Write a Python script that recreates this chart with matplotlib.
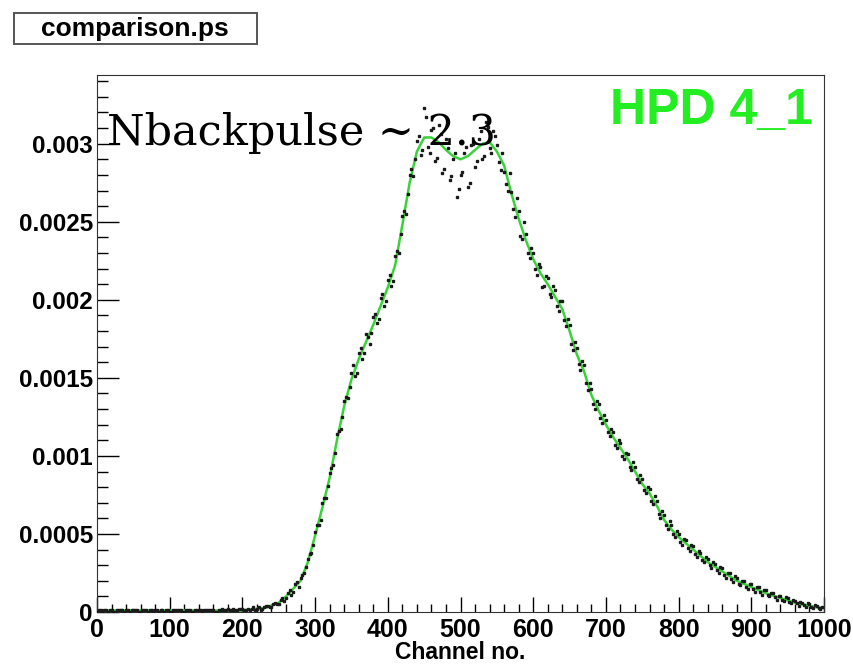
import numpy as np
import matplotlib
matplotlib.use("Agg")
import matplotlib.pyplot as plt
from matplotlib.ticker import MultipleLocator, FuncFormatter
from matplotlib.patches import Rectangle

# green reference curve, every 10 channels (units of 1e-4)
curve_ch = list(range(0, 1001, 10))
curve_val = [
    0.1, 0.1, 0.1, 0.1, 0.1, 0.1, 0.1, 0.1, 0.1, 0.1,
    0.1, 0.1, 0.1, 0.1, 0.1, 0.1, 0.1, 0.1, 0.1, 0.1,
    0.1, 0.15, 0.2, 0.25, 0.4, 0.6, 1.0, 1.5, 2.0, 3.2,
    4.9, 6.7, 8.6, 11.0, 13.2, 14.9, 16.2, 17.3, 18.4, 19.6,
    20.8, 22.2, 24.8, 27.5, 29.5, 30.4, 30.4, 30.1, 29.6, 29.2,
    29.0, 29.2, 29.6, 30.0, 30.1, 29.5, 28.6, 26.8, 25.2, 23.8,
    22.6, 21.7, 21.0, 20.2, 19.4, 18.0, 16.5, 15.4, 13.9, 12.9,
    12.0, 11.2, 10.5, 9.8, 9.0, 8.2, 7.6, 6.8, 5.9, 5.3,
    4.8, 4.4, 4.0, 3.6, 3.2, 2.9, 2.6, 2.3, 2.0, 1.8,
    1.6, 1.4, 1.2, 1.05, 0.9, 0.75, 0.6, 0.5, 0.4, 0.3,
    0.25,
]

# measured points, first pass, channels 2.5, 7.5, ... (units of 1e-4)
pts_a_ch = [2.5 + 5 * i for i in range(200)]
pts_a_val = [
    0.1, 0.0, 0.1, 0.1, 0.0, 0.1, 0.1, 0.0, 0.1, 0.1,
    0.1, 0.0, 0.1, 0.1, 0.1, 0.0, 0.1, 0.1, 0.0, 0.1,
    0.0, 0.1, 0.1, 0.0, 0.1, 0.1, 0.0, 0.1, 0.1, 0.1,
    0.1, 0.1, 0.0, 0.1, 0.2, 0.1, 0.1, 0.2, 0.1, 0.2,
    0.1, 0.2, 0.2, 0.1, 0.3, 0.2, 0.4, 0.3, 0.5, 0.5,
    0.8, 0.7, 1.2, 1.1, 1.8, 1.6, 2.4, 2.9, 3.7, 4.3,
    5.6, 5.9, 7.3, 8.1, 9.2, 10.2, 11.6, 12.5, 13.8, 14.4,
    15.8, 15.3, 16.9, 16.6, 17.6, 17.9, 19.1, 18.8, 20.4, 19.9,
    21.6, 21.2, 23.1, 24.2, 25.7, 26.8, 28.4, 29.0, 30.5, 29.6,
    31.7, 29.4, 31.0, 29.1, 30.6, 28.4, 29.7, 27.9, 29.4, 27.1,
    28.2, 29.8, 27.5, 30.0, 28.9, 30.8, 29.2, 31.1, 29.4, 30.5,
    28.8, 29.4, 27.4, 28.1, 25.8, 26.5, 24.1, 25.0, 23.0, 23.3,
    22.0, 22.3, 20.8, 21.5, 20.4, 20.9, 19.6, 19.9, 18.7, 18.8,
    17.2, 17.3, 15.9, 16.1, 14.7, 14.7, 13.3, 13.5, 12.4, 12.6,
    11.5, 11.7, 10.7, 11.0, 10.0, 10.2, 9.3, 9.6, 8.5, 8.8,
    7.8, 8.0, 7.1, 7.4, 6.3, 6.5, 5.6, 5.8, 5.0, 5.2,
    4.5, 4.7, 4.1, 4.3, 3.7, 3.9, 3.3, 3.5, 3.0, 3.2,
    2.7, 2.9, 2.4, 2.5, 2.1, 2.3, 1.8, 2.0, 1.6, 1.8,
    1.5, 1.6, 1.3, 1.4, 1.1, 1.2, 0.95, 1.05, 0.8, 0.95,
    0.65, 0.8, 0.55, 0.65, 0.45, 0.55, 0.35, 0.45, 0.25, 0.35,
]

# measured points, second pass, channels 0, 5, 10, ... (units of 1e-4)
pts_b_ch = [5 * i for i in range(200)]
pts_b_val = [
    0.0, 0.1, 0.1, 0.0, 0.1, 0.0, 0.1, 0.1, 0.1, 0.0,
    0.1, 0.1, 0.0, 0.1, 0.0, 0.1, 0.1, 0.0, 0.1, 0.1,
    0.0, 0.1, 0.1, 0.1, 0.0, 0.1, 0.0, 0.1, 0.1, 0.0,
    0.1, 0.1, 0.1, 0.0, 0.1, 0.1, 0.2, 0.1, 0.1, 0.2,
    0.2, 0.1, 0.1, 0.3, 0.2, 0.1, 0.3, 0.4, 0.3, 0.6,
    0.5, 0.9, 0.9, 1.4, 1.3, 1.9, 2.2, 2.5, 3.4, 3.8,
    5.1, 5.6, 7.0, 7.3, 8.9, 9.4, 11.4, 11.7, 13.5, 13.7,
    15.3, 15.1, 16.6, 16.2, 17.8, 17.2, 18.9, 18.5, 20.1, 19.6,
    21.3, 20.9, 22.8, 23.0, 25.4, 25.5, 28.0, 27.9, 30.2, 29.3,
    32.3, 29.8, 30.9, 28.9, 31.2, 28.1, 30.3, 27.7, 29.0, 26.6,
    28.0, 29.4, 27.2, 29.9, 28.5, 30.3, 29.0, 31.4, 29.7, 30.8,
    29.9, 28.3, 28.2, 27.0, 26.9, 25.3, 25.7, 23.9, 24.2, 22.7,
    23.0, 21.6, 22.1, 20.9, 21.4, 20.2, 20.6, 19.3, 19.9, 18.3,
    18.4, 16.8, 16.9, 15.5, 15.8, 14.2, 14.3, 13.0, 13.3, 12.1,
    12.3, 11.3, 11.5, 10.5, 10.8, 9.8, 10.1, 9.1, 9.3, 8.3,
    8.5, 7.6, 7.9, 6.9, 7.1, 6.0, 6.2, 5.3, 5.6, 4.8,
    5.0, 4.3, 4.6, 3.9, 4.2, 3.5, 3.8, 3.2, 3.4, 2.8,
    3.1, 2.5, 2.8, 2.2, 2.5, 1.9, 2.2, 1.7, 2.0, 1.5,
    1.8, 1.3, 1.6, 1.1, 1.4, 1.0, 1.2, 0.8, 1.0, 0.7,
    0.9, 0.6, 0.7, 0.4, 0.6, 0.35, 0.5, 0.25, 0.4, 0.2,
]

fig = plt.figure(figsize=(8.54, 6.64), dpi=100)
ax = fig.add_axes([0.1136, 0.0783, 0.8513, 0.8087])

ax.plot(curve_ch, np.array(curve_val) * 1e-4, color="#3ad23a", lw=1.8, zorder=2)
for xs, vs in [(pts_a_ch, pts_a_val), (pts_b_ch, pts_b_val)]:
    ax.plot(xs, np.array(vs) * 1e-4, ls="none", marker="s", ms=1.7,
            color="#1a1a1a", zorder=3)

ax.set_xlim(0, 1000)
ax.set_ylim(0, 0.00344)

ax.xaxis.set_major_locator(MultipleLocator(100))
ax.xaxis.set_minor_locator(MultipleLocator(20))
ax.yaxis.set_major_locator(MultipleLocator(0.0005))
ax.yaxis.set_minor_locator(MultipleLocator(0.0001))
ax.yaxis.set_major_formatter(FuncFormatter(lambda v, p: "0" if v == 0 else ("%g" % v)))

xfont = {"family": "Liberation Sans", "weight": "bold", "size": 18}
yfont = {"family": "Liberation Sans", "weight": "bold", "size": 17.5}
ax.tick_params(axis="x", which="major", direction="in", length=11, width=1, pad=4)
ax.tick_params(axis="x", which="minor", direction="in", length=5.5, width=1)
ax.tick_params(axis="y", which="major", direction="in", length=16, width=1, pad=3)
ax.tick_params(axis="y", which="minor", direction="in", length=8, width=1)
for lab in ax.get_xticklabels():
    lab.set_fontproperties(xfont)
for lab in ax.get_yticklabels():
    lab.set_fontproperties(yfont)
for s in ax.spines.values():
    s.set_color("#333333")

ax.set_xlabel("Channel no.", fontdict={"family": "Liberation Sans", "weight": "bold",
                                       "size": 16.5}, labelpad=-0.5)

ax.text(0.014, 0.870, "Nbackpulse ~ 2.3", transform=ax.transAxes,
        family="DejaVu Serif", fontsize=31, va="baseline", ha="left", zorder=4)
ax.text(0.985, 0.975, "HPD 4_1", transform=ax.transAxes, ha="right", va="top",
        family=["Liberation Sans Narrow", "Liberation Sans"], weight="bold",
        fontsize=36, color="#22ee22")

# title box
fig.patches.append(Rectangle((14 / 854, 1 - 44 / 664), 243 / 854, 31 / 664,
                             transform=fig.transFigure, fill=False,
                             edgecolor="#555555", lw=1.4))
fig.text(135 / 854, 1 - 29 / 664, "comparison.ps", ha="center", va="center",
         family="Liberation Sans", weight="bold", fontsize=19)

fig.savefig("out.png", dpi=100)
